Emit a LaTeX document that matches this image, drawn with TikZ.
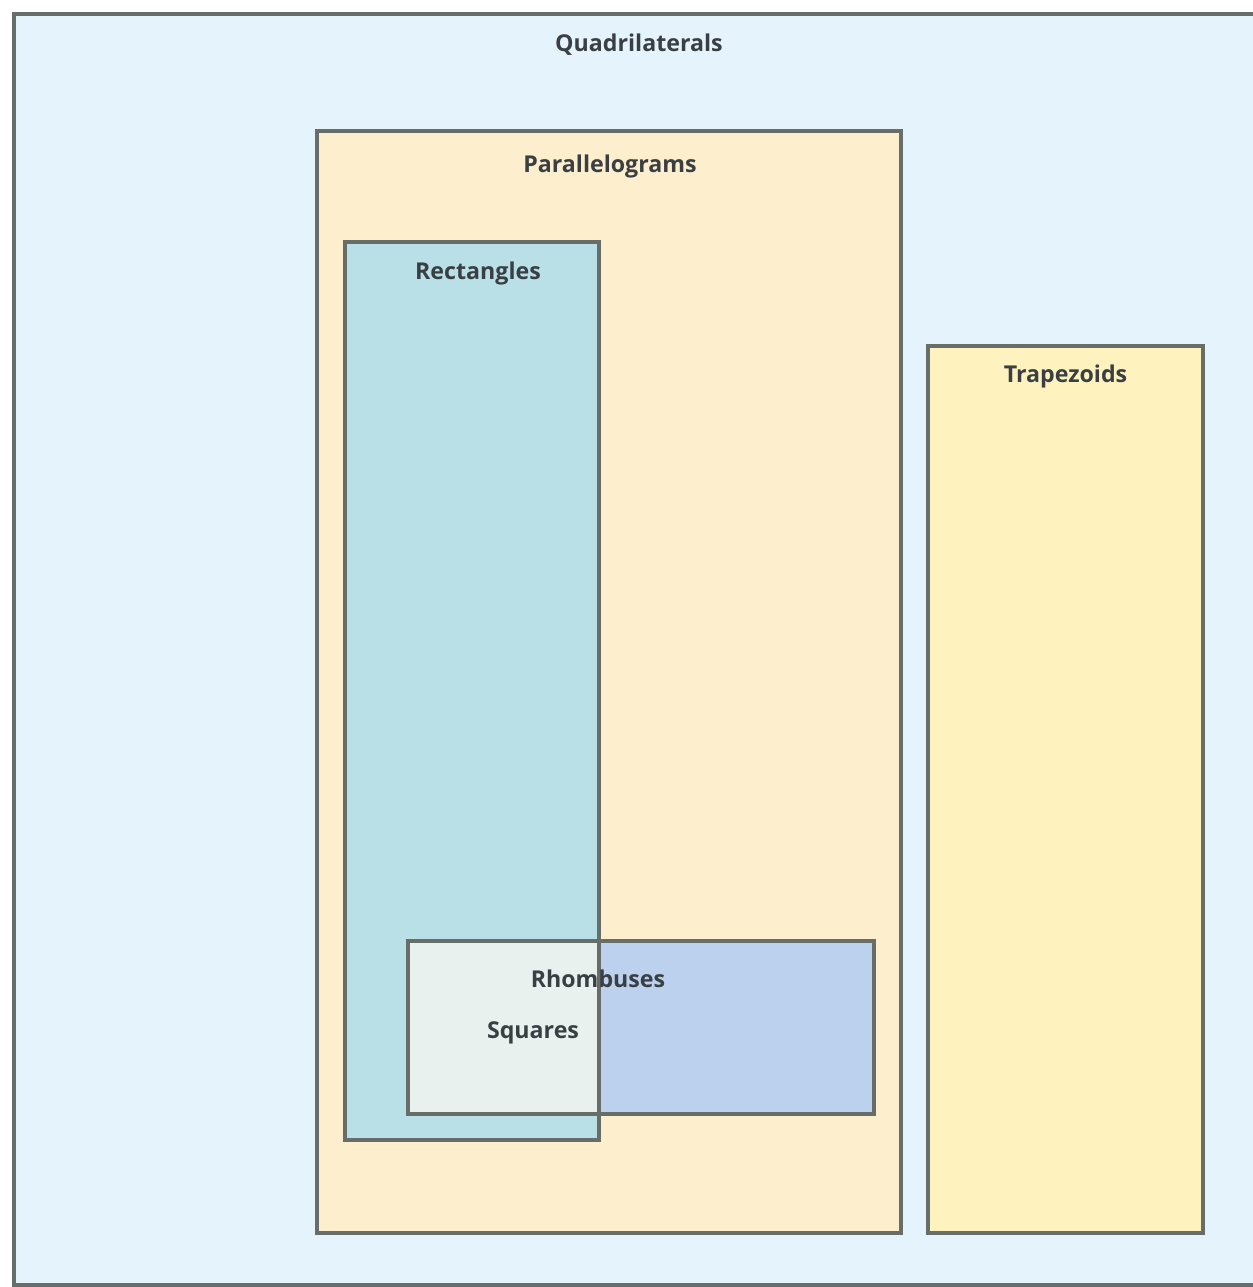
\documentclass[tikz,border=0pt]{standalone}
\usepackage{fontspec}
\setsansfont{Open Sans}
\usepackage{tikz}
\usetikzlibrary{positioning,fit,calc}
\definecolor{quadblue}{HTML}{E5F3FC}
\definecolor{paraorange}{HTML}{FDEFCE}
\definecolor{recteal}{HTML}{B8E0E6}
\definecolor{trapyellow}{HTML}{FEF3BF}
\definecolor{rhombblue}{HTML}{BCD1EE}
\definecolor{squarewhite}{HTML}{E9F1EF}
\definecolor{edgegray}{HTML}{676E69}
\definecolor{textgray}{HTML}{3A3F44}

\begin{document}
\begin{tikzpicture}[
    x=0.02cm, y=-0.02cm,
    setbox/.style={
        rectangle,
        draw=edgegray,
        line width=2pt,
        inner sep=0pt,
        outer sep=0pt
    },
    setlabel/.style={
        font=\sffamily\bfseries\fontsize{13.2}{15}\selectfont,
        text=textgray,
        inner sep=0pt
    }
]
\useasboundingbox (0,0) rectangle (1253,1287);
\clip (0,0) rectangle (1253,1287);

% Sets
\node[setbox, fill=quadblue, fit={(14,14) (1260,1285)}] (quad) {};
\node[setbox, fill=paraorange, fit={(317,131) (901,1233)}] (para) {};
\node[setbox, fill=recteal, fit={(345,242) (599,1140)}] (rect) {};
\node[setbox, fill=trapyellow, fit={(928,346) (1203,1233)}] (trap) {};
\node[setbox, fill=rhombblue, fit={(408,941) (874,1114)}] (rhomb) {};

% Squares = rectangles and rhombuses
\fill[squarewhite] (rhomb.north west) rectangle (rect.east |- rhomb.south);
\draw[edgegray, line width=2pt] (rect.north west) rectangle (rect.south east);
\draw[edgegray, line width=2pt] (rhomb.north west) rectangle (rhomb.south east);

% Labels
\node[setlabel] (quadlbl) at ($(quad.north)+(2,31)$) {Quadrilaterals};
\node[setlabel] (paralbl) at ($(para.north)+(1,35)$) {Parallelograms};
\node[setlabel] (rectlbl) at ($(rect.north)+(6,31)$) {Rectangles};
\node[setlabel] (traplbl) at ($(trap.north)+(0,30)$) {Trapezoids};
\node[setlabel] (rhomblbl) at ($(rect.east |- rhomb.north)+(-1,38)$) {Rhombuses};
\node[setlabel] (squarelbl) at ($(rhomblbl)+(-65,54)$) {Squares};

\end{tikzpicture}
\end{document}
